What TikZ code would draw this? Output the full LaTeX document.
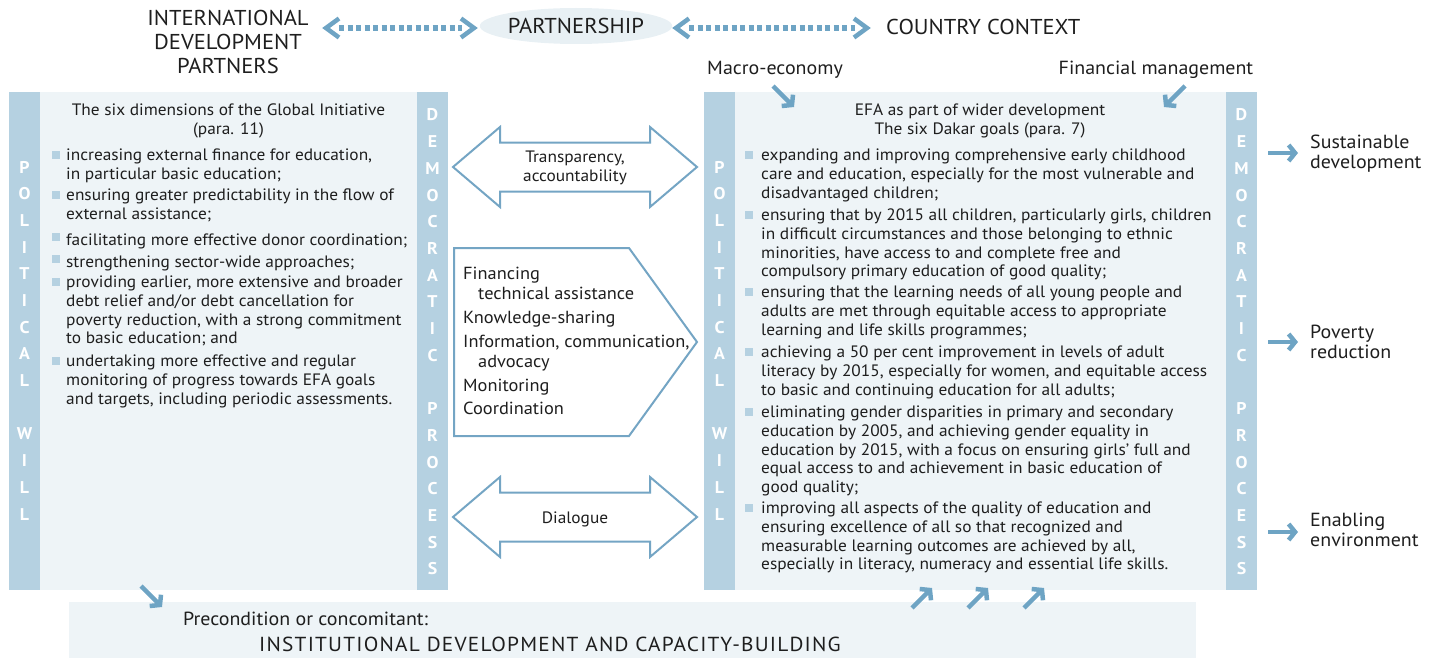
\documentclass[tikz,border=0pt]{standalone}
\usepackage{fontspec}
\setmainfont{PT Sans}[FakeStretch=1.05]
\newfontfamily\capsfont{PT Sans}[FakeStretch=1.05,LetterSpace=6]
\usetikzlibrary{arrows.meta,shapes.geometric}
\definecolor{barblue}{HTML}{B5D1E1}
\definecolor{panel}{HTML}{EEF4F7}
\definecolor{ellfill}{HTML}{E8F0F4}
\definecolor{arrowblue}{HTML}{6EA4C4}
\definecolor{outline}{HTML}{74A5C4}
\definecolor{ink}{HTML}{1E1E1E}
\newcommand\bodyfont{\fontsize{16.5}{18.6}\selectfont}
\newcommand\listfont{\fontsize{17.5}{20}\selectfont}
\newcommand\headfont{\fontsize{21.5}{24}\selectfont}
\newcommand\sidefont{\fontsize{19}{20.5}\selectfont}
\newcommand\letterfont{\fontsize{17}{17}\selectfont\bfseries}
% first-line struts so that the given y is the first baseline
\newcommand\bodystrut{\rule{0pt}{14pt}}
\newcommand\headstrut{\rule{0pt}{17pt}}
\newcommand\sidestrut{\rule{0pt}{16pt}}
\tikzset{
  bodytext/.style={inner sep=0pt, font=\bodyfont, text=ink, align=left, anchor=north west,
    yshift=10pt, execute at begin node=\bodystrut},
  ctext/.style={inner sep=0pt, font=\bodyfont, text=ink, align=center, anchor=north,
    yshift=10pt, execute at begin node=\bodystrut},
  listtext/.style={inner sep=0pt, font=\listfont, text=ink, align=left, anchor=north west,
    yshift=11pt, execute at begin node=\rule{0pt}{15pt}},
  headtext/.style={inner sep=0pt, font=\headfont, text=ink, align=center, anchor=north,
    yshift=15.5pt, execute at begin node=\headstrut},
  sidetext/.style={inner sep=0pt, font=\sidefont, text=ink, align=left, anchor=north west,
    yshift=12.5pt, execute at begin node=\sidestrut},
  vletter/.style={inner sep=0pt, font=\letterfont, text=white, anchor=center},
  bulletsq/.style={fill=barblue, minimum size=8.5pt, inner sep=0pt},
  shapeline/.style={draw=outline, line width=2pt, fill=white, line join=miter},
  pointer/.style={draw=arrowblue, line width=4.5pt, -{Straight Barb[length=6.5pt,width=16pt]}},
  chevron/.style={draw=arrowblue, line width=4.5pt, line join=miter},
  dots/.style={draw=arrowblue, line width=6pt, dash pattern=on 5pt off 3.5pt},
}
\begin{document}
\begin{tikzpicture}[x=1pt,y=-1pt]
\useasboundingbox (0,0) rectangle (1434,658);

% ---------- panels ----------
\fill[panel] (40,92) rectangle (417,590);
\fill[barblue] (9,92) rectangle (40,590);
\fill[barblue] (417,92) rectangle (448,590);
\fill[panel] (735,92) rectangle (1226,590);
\fill[barblue] (704,92) rectangle (735,590);
\fill[barblue] (1226,92) rectangle (1257,590);
\fill[panel] (69,602) rectangle (1196,658);

% ---------- vertical captions in the bars ----------
\foreach \ch [count=\k from 0] in {P,O,L,I,T,I,C,A,L,{},W,I,L,L} {
  \node[vletter] (pwa\k) at (24.5,167+26.7*\k) {\ch};
  \node[vletter] (pwb\k) at (719.5,167+26.7*\k) {\ch};
}
\foreach \ch [count=\k from 0] in {D,E,M,O,C,R,A,T,I,C,{},P,R,O,C,E,S,S} {
  \node[vletter] (dpa\k) at (432.5,115+26.7*\k) {\ch};
  \node[vletter] (dpb\k) at (1241.5,115+26.7*\k) {\ch};
}

% ---------- header ----------
\node[headtext] (idp) at (228,25.5) {INTERNATIONAL\\DEVELOPMENT\\PARTNERS};
\node[ellipse, fill=ellfill, minimum width=166pt, minimum height=36pt, inner sep=0pt,
      font=\headfont, text=ink] (partner) at (576,26) {PARTNERSHIP};
\node[inner sep=0pt, font=\headfont, text=ink, anchor=base west] (cc) at (886,35) {COUNTRY CONTEXT};

% dotted double arrows
\coordinate (dl1) at (339,28); \coordinate (dl2) at (462,28);
\draw[dots] (dl1) -- (dl2);
\draw[chevron] (339,18.5) -- (326,28) -- (339,37.5);
\draw[chevron] (461,18.5) -- (474,28) -- (461,37.5);
\coordinate (dr1) at (689,28); \coordinate (dr2) at (855,28);
\draw[dots] (dr1) -- (dr2);
\draw[chevron] (689,18.5) -- (676,28) -- (689,37.5);
\draw[chevron] (854,18.5) -- (867,28) -- (854,37.5);

% ---------- context labels ----------
\node[inner sep=0pt, font=\sidefont, text=ink, anchor=base] (macro) at (775,75) {Macro-economy};
\node[inner sep=0pt, font=\sidefont, text=ink, anchor=base] (finmgmt) at (1156,75) {Financial management};
\coordinate (ma1) at (773,86); \coordinate (ma2) at (794,107);
\draw[pointer] (ma1) -- (ma2);
\coordinate (fa1) at (1185,86); \coordinate (fa2) at (1164,107);
\draw[pointer] (fa1) -- (fa2);

% ---------- left panel ----------
\node[ctext] (lhead) at (228.5,114) {The six dimensions of the Global Initiative\\(para. 11)};
\foreach \yy [count=\i] in {155,195,237,259,282,361} {
  \node[bulletsq] (lb\i) at (56,\yy) {};
}
\node[bodytext] (li1) at (66,159) {increasing external finance for education,\\in particular basic education;};
\node[bodytext] (li2) at (66,199) {ensuring greater predictability in the flow of\\external assistance;};
\node[bodytext] (li3) at (66,241) {facilitating more effective donor coordination;};
\node[bodytext] (li4) at (66,263) {strengthening sector-wide approaches;};
\node[bodytext] (li5) at (66,286) {providing earlier, more extensive and broader\\debt relief and/or debt cancellation for\\poverty reduction, with a strong commitment\\to basic education; and};
\node[bodytext] (li6) at (66,365) {undertaking more effective and regular\\monitoring of progress towards EFA goals\\and targets, including periodic assessments.};

% ---------- right panel ----------
\node[ctext] (rhead) at (980,114) {EFA as part of wider development\\The six Dakar goals (para. 7)};
\foreach \yy [count=\i] in {155,215,292,352,412,508} {
  \node[bulletsq] (rb\i) at (749,\yy) {};
}
\node[bodytext] (ri1) at (761,159) {expanding and improving comprehensive early childhood\\care and education, especially for the most vulnerable and\\disadvantaged children;};
\node[bodytext] (ri2) at (761,219) {ensuring that by 2015 all children, particularly girls, children\\in difficult circumstances and those belonging to ethnic\\minorities, have access to and complete free and\\compulsory primary education of good quality;};
\node[bodytext] (ri3) at (761,296) {ensuring that the learning needs of all young people and\\adults are met through equitable access to appropriate\\learning and life skills programmes;};
\node[bodytext] (ri4) at (761,356) {achieving a 50 per cent improvement in levels of adult\\literacy by 2015, especially for women, and equitable access\\to basic and continuing education for all adults;};
\node[bodytext] (ri5) at (761,416) {eliminating gender disparities in primary and secondary\\education by 2005, and achieving gender equality in\\education by 2015, with a focus on ensuring girls' full and\\equal access to and achievement in basic education of\\good quality;};
\node[bodytext] (ri6) at (761,512) {improving all aspects of the quality of education and\\ensuring excellence of all so that recognized and\\measurable learning outcomes are achieved by all,\\especially in literacy, numeracy and essential life skills.};

% ---------- middle exchange shapes ----------
\draw[shapeline] (453,167) -- (500,127) -- (500,142.5) -- (650,142.5) -- (650,127) -- (697,167)
  -- (650,207) -- (650,191.5) -- (500,191.5) -- (500,207) -- cycle;
\node[ctext] (transp) at (575,161) {Transparency,\\accountability};

\draw[shapeline] (454,248) -- (629,248) -- (697,342) -- (629,436) -- (454,436) -- cycle;
\node[listtext] (support) at (463,278) {Financing\\
  \hspace*{15pt}technical assistance\\[4pt]
  Knowledge-sharing\\[4pt]
  Information, communication,\\
  \hspace*{15pt}advocacy\\[4pt]
  Monitoring\\[3pt]
  Coordination};

\draw[shapeline] (453,517) -- (500,477) -- (500,492.5) -- (650,492.5) -- (650,477) -- (697,517)
  -- (650,557) -- (650,541.5) -- (500,541.5) -- (500,557) -- cycle;
\node[ctext] (dialog) at (575,519) {Dialogue};

% ---------- outcomes ----------
\foreach \yy/\nm in {153/oa,342/ob,532/oc} {
  \coordinate (\nm1) at (1268,\yy); \coordinate (\nm2) at (1298,\yy);
  \draw[pointer] (\nm1) -- (\nm2);
}
\node[sidetext] (sust) at (1310,147) {Sustainable\\development};
\node[sidetext] (pov) at (1310,337) {Poverty\\reduction};
\node[sidetext] (enab) at (1310,525) {Enabling\\environment};

% ---------- bottom ----------
\coordinate (ba1) at (141,586); \coordinate (ba2) at (162,607);
\draw[pointer] (ba1) -- (ba2);
\foreach \xx [count=\i] in {912,968,1024} {
  \coordinate (ua\i) at (\xx,608); \coordinate (ub\i) at (\xx+20,588);
  \draw[pointer] (ua\i) -- (ub\i);
}
\node[inner sep=0pt, font=\sidefont, text=ink, anchor=base west] (precond) at (183,625) {Precondition or concomitant:};
\node[inner sep=0pt, font=\capsfont\fontsize{20.3}{20.3}\selectfont, text=ink, anchor=base west] (idcb) at (259,651.5)
  {INSTITUTIONAL DEVELOPMENT AND CAPACITY-BUILDING};
\end{tikzpicture}
\end{document}
